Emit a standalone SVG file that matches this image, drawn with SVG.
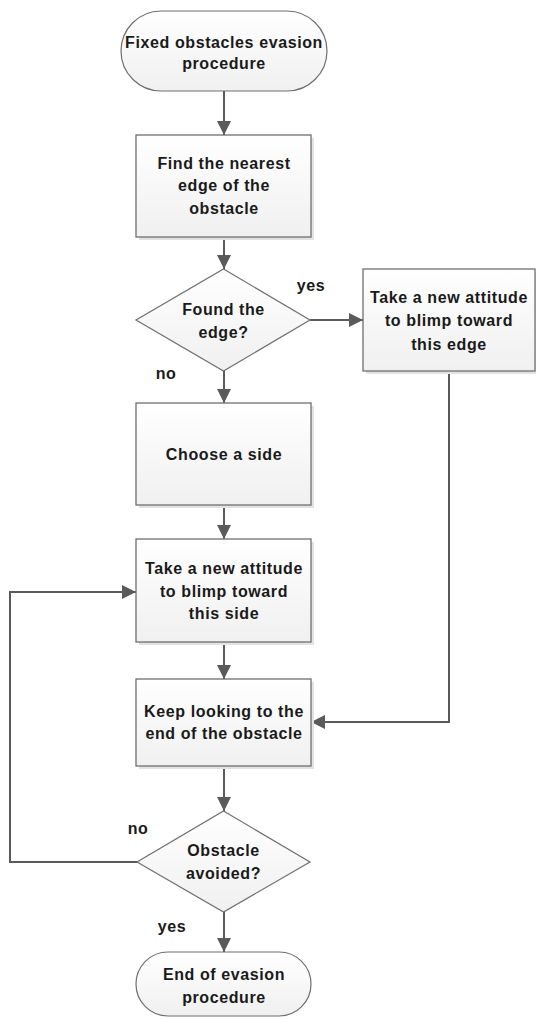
<svg xmlns="http://www.w3.org/2000/svg" width="536" height="1019" viewBox="0 0 536 1019">
<style>
.box{fill:url(#g);stroke:#6f6f6f;stroke-width:1.3}
.sh{fill:#e2e2e2}
.term{fill:url(#g);stroke:#6f6f6f;stroke-width:1.2}
.t{font-family:"Liberation Sans",Arial,sans-serif;font-weight:bold;font-size:16px;letter-spacing:0.6px;fill:#1a1a1a;text-anchor:middle}
.c{fill:none;stroke:#5a5a5a;stroke-width:2}
</style>
<defs>
<linearGradient id="g" x1="0" y1="0" x2="0" y2="1">
<stop offset="0" stop-color="#ffffff"/>
<stop offset="1" stop-color="#f0f0f0"/>
</linearGradient>
<marker id="ah" markerUnits="userSpaceOnUse" viewBox="0 0 14 14" refX="14" refY="7" markerWidth="14" markerHeight="14" orient="auto">
<path d="M0,0 L14,7 L0,14 z" fill="#5a5a5a"/>
</marker>
</defs>
<g id="connectors">
<path class="c" d="M224,91 V135" marker-end="url(#ah)"/>
<path class="c" d="M224,237 V269" marker-end="url(#ah)"/>
<path class="c" d="M310,320 H363" marker-end="url(#ah)"/>
<path class="c" d="M224,371 V403" marker-end="url(#ah)"/>
<path class="c" d="M224,505 V539" marker-end="url(#ah)"/>
<path class="c" d="M224,642 V679" marker-end="url(#ah)"/>
<path class="c" d="M449,371 V722 H311" marker-end="url(#ah)"/>
<path class="c" d="M224,766 V811" marker-end="url(#ah)"/>
<path class="c" d="M137,862 H10 V592 H136" marker-end="url(#ah)"/>
<path class="c" d="M224,912 V952" marker-end="url(#ah)"/>
<text class="t" x="311" y="290.5">yes</text>
<text class="t" x="166" y="378.5">no</text>
<text class="t" x="138" y="833.5">no</text>
<text class="t" x="172" y="931.5">yes</text>
</g>
<g id="start">
<rect class="term" x="121" y="11" width="206" height="80" rx="40" ry="40"/>
<text class="t" x="224" y="47.5">Fixed obstacles evasion</text>
<text class="t" x="224" y="68.5">procedure</text>
</g>
<g id="find">
<rect class="sh" x="139" y="138" width="175" height="102"/>
<rect class="box" x="136" y="135" width="175" height="102"/>
<text class="t" x="224" y="168.5">Find the nearest</text>
<text class="t" x="224" y="191">edge of the</text>
<text class="t" x="224" y="213.5">obstacle</text>
</g>
<g id="found">
<polygon class="term" points="223.5,269 310,320 223.5,371 136,320"/>
<text class="t" x="223.5" y="314.5">Found the</text>
<text class="t" x="223.5" y="337.5">edge?</text>
</g>
<g id="edge">
<rect class="sh" x="366" y="272" width="172" height="102"/>
<rect class="box" x="363" y="269" width="172" height="102"/>
<text class="t" x="449" y="302.5">Take a new attitude</text>
<text class="t" x="449" y="326">to blimp toward</text>
<text class="t" x="449" y="349.5">this edge</text>
</g>
<g id="choose">
<rect class="sh" x="139" y="406" width="175" height="102"/>
<rect class="box" x="136" y="403" width="175" height="102"/>
<text class="t" x="224" y="459.5">Choose a side</text>
</g>
<g id="side">
<rect class="sh" x="139" y="542" width="175" height="103"/>
<rect class="box" x="136" y="539" width="175" height="103"/>
<text class="t" x="224" y="573.5">Take a new attitude</text>
<text class="t" x="224" y="596.5">to blimp toward</text>
<text class="t" x="224" y="618.5">this side</text>
</g>
<g id="keep">
<rect class="sh" x="139" y="682" width="175" height="87"/>
<rect class="box" x="136" y="679" width="175" height="87"/>
<text class="t" x="224" y="717">Keep looking to the</text>
<text class="t" x="224" y="739">end of the obstacle</text>
</g>
<g id="avoided">
<polygon class="term" points="223.5,811 310,862 223.5,912 137,862"/>
<text class="t" x="223.5" y="856">Obstacle</text>
<text class="t" x="223.5" y="879">avoided?</text>
</g>
<g id="end">
<rect class="term" x="136" y="952" width="175" height="64" rx="32" ry="32"/>
<text class="t" x="224" y="979.5">End of evasion</text>
<text class="t" x="224" y="1002.5">procedure</text>
</g>
</svg>
